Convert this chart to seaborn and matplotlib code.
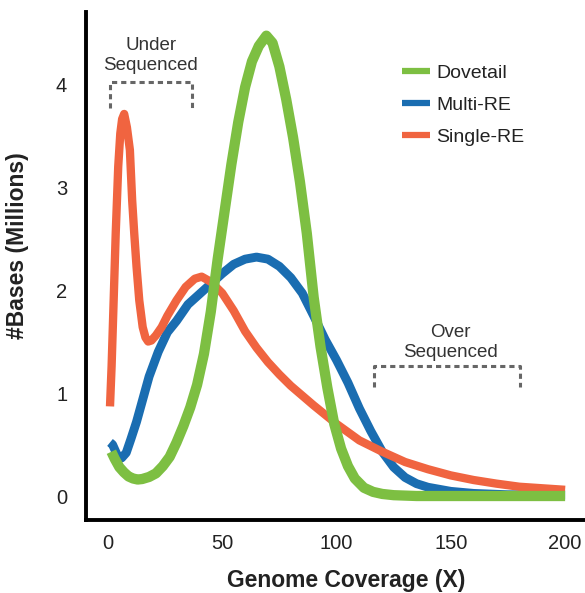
import numpy as np
import pandas as pd
import matplotlib
matplotlib.use("Agg")
import matplotlib.pyplot as plt
import seaborn as sns
from matplotlib.lines import Line2D

# ---- data ----
dovetail_x = [1.5, 3, 5, 7, 9, 11, 13, 15, 18, 21, 24, 27, 30, 33, 36, 39, 42, 45, 48, 51,
              54, 57, 60, 63, 66, 69.3, 72, 75, 78, 81, 84, 87, 90, 93, 96, 99, 102, 105,
              108, 112, 116, 120, 125, 135, 150, 175, 200]
dovetail_y = [0.43, 0.36, 0.28, 0.23, 0.19, 0.17, 0.16, 0.165, 0.185, 0.22, 0.29, 0.38, 0.52,
              0.68, 0.86, 1.08, 1.38, 1.79, 2.30, 2.76, 3.22, 3.63, 3.97, 4.22, 4.37, 4.47,
              4.40, 4.17, 3.85, 3.48, 3.05, 2.55, 1.93, 1.45, 1.05, 0.70, 0.46, 0.29, 0.17,
              0.08, 0.04, 0.02, 0.008, 0.0, 0.0, 0.0, 0.0]

multi_x = [0.9, 2, 4, 6, 8, 10, 12.5, 15, 18, 22, 26, 30, 35, 40, 45, 50, 55, 60, 65, 70, 75,
           80, 85, 90, 95, 100, 105, 110, 115, 120, 125, 130, 135, 140, 150, 160, 175, 200]
multi_y = [0.52, 0.50, 0.40, 0.37, 0.42, 0.55, 0.72, 0.92, 1.16, 1.40, 1.59, 1.70, 1.86, 1.96,
           2.06, 2.16, 2.25, 2.30, 2.32, 2.30, 2.23, 2.12, 1.97, 1.75, 1.52, 1.32, 1.10, 0.85,
           0.63, 0.43, 0.28, 0.18, 0.12, 0.085, 0.045, 0.025, 0.012, 0.01]

single_x = [0.9, 1.6, 2.5, 3.4, 4.5, 5.4, 6.2, 7.1, 8.3, 9.6, 10.6, 11.5, 12.5, 13.7, 15.2,
            16.4, 17.6, 19, 21, 23.5, 26, 30, 34, 38, 41, 45, 50, 55, 60, 65, 70, 75, 80, 90,
            100, 110, 120, 130, 140, 150, 160, 170, 180, 190, 200]
single_y = [0.87, 1.26, 1.90, 2.55, 3.20, 3.52, 3.66, 3.71, 3.58, 3.36, 2.87, 2.55, 2.23, 1.90,
            1.64, 1.54, 1.50, 1.51, 1.56, 1.64, 1.75, 1.90, 2.03, 2.11, 2.13, 2.08, 1.97, 1.80,
            1.60, 1.44, 1.30, 1.18, 1.07, 0.88, 0.70, 0.54, 0.43, 0.33, 0.26, 0.20, 0.155,
            0.12, 0.09, 0.075, 0.06]

series_names = ["Dovetail", "Multi-RE", "Single-RE"]
colors = {"Dovetail": "#7dbf42", "Multi-RE": "#1a6db1", "Single-RE": "#f06440"}
x_ticks = [0, 50, 100, 150, 200]
y_ticks = [0, 1, 2, 3, 4]

df = pd.concat([
    pd.DataFrame({"x": dovetail_x, "y": dovetail_y, "series": "Dovetail"}),
    pd.DataFrame({"x": multi_x, "y": multi_y, "series": "Multi-RE"}),
    pd.DataFrame({"x": single_x, "y": single_y, "series": "Single-RE"}),
])

sns.set_style("white")
plt.rcParams["font.family"] = ["Liberation Sans", "DejaVu Sans"]

fig = plt.figure(figsize=(5.85, 5.93), dpi=100)
ax = fig.add_axes([86 / 585, 73 / 593, 499 / 585, 508 / 593])

widths = {"Dovetail": 7.4, "Multi-RE": 6.4, "Single-RE": 6.0}
zorders = {"Multi-RE": 3, "Single-RE": 4, "Dovetail": 5}
for name in ["Multi-RE", "Single-RE", "Dovetail"]:
    sub = df[df["series"] == name]
    sns.lineplot(data=sub, x="x", y="y", ax=ax, color=colors[name], lw=widths[name],
                 zorder=zorders[name], legend=False, sort=False,
                 solid_capstyle="butt", solid_joinstyle="round")

ax.set_xlim(-9.6, 208.7)
ax.set_ylim(-0.233, 4.70)
ax.set_xticks(x_ticks)
ax.set_yticks(y_ticks)
ax.set_xlabel("")
ax.set_ylabel("")

for s in ["top", "right"]:
    ax.spines[s].set_visible(False)
for s in ["left", "bottom"]:
    ax.spines[s].set_linewidth(2.8)
    ax.spines[s].set_color("black")

ax.tick_params(axis="both", which="major", length=6.5, width=2.2, color="#333333",
               labelsize=14.5, labelcolor="#222222", direction="out")
ax.tick_params(axis="y", pad=7)
ax.tick_params(axis="x", pad=3.5)

# dotted brackets
br_kw = dict(color="#666666", lw=2.2, ls=(0, (1.7, 1.3)), solid_capstyle="butt",
             dash_capstyle="butt", zorder=2)
ax.plot([0.9, 0.9, 36.8, 36.8], [3.77, 4.02, 4.02, 3.77], **br_kw)
ax.plot([116.4, 116.4, 180.3, 180.3], [1.06, 1.265, 1.265, 1.06], **br_kw)
ax.text(18.8, 4.28, "Under\nSequenced", ha="center", va="center", fontsize=13.5,
        color="#333333", linespacing=1.25)
ax.text(149.7, 1.49, "Over\nSequenced", ha="center", va="center", fontsize=13.5,
        color="#333333", linespacing=1.25)

handles = [Line2D([0], [0], color=colors[n], lw=4.5, solid_capstyle="butt") for n in series_names]
leg = ax.legend(handles, series_names, loc="upper left",
                bbox_to_anchor=(402 / 585, 1 - 64 / 593), bbox_transform=fig.transFigure,
                frameon=False, fontsize=14, handlelength=1.45, handletextpad=0.3,
                labelspacing=0.75, borderpad=0, borderaxespad=0)
for t in leg.get_texts():
    t.set_color("#222222")

fig.text(346 / 585, 1 - 580 / 593, "Genome Coverage (X)", ha="center", va="center",
         fontsize=16.5, fontweight="bold", color="#222222")
fig.text(18 / 585, 1 - 246 / 593, "#Bases (Millions)", ha="center", va="center",
         rotation=90, fontsize=16.5, fontweight="bold", color="#222222")

fig.savefig("out.png", dpi=100)
